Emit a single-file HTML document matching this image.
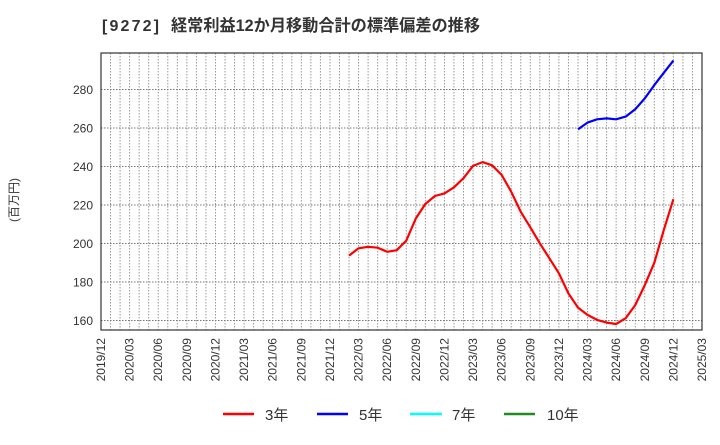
<!DOCTYPE html>
<html><head><meta charset="utf-8"><style>
body{margin:0;background:#fff;}
svg text{font-family:"Liberation Sans","Noto Sans CJK JP",sans-serif;fill:#333;}
</style></head><body>
<svg id="c" width="720" height="440" xmlns="http://www.w3.org/2000/svg">
<g>
<text x="102" y="31" font-size="16" font-weight="bold" textLength="57">[9272]</text>
<text x="171" y="31" font-size="16.5" font-weight="bold" textLength="309" lengthAdjust="spacingAndGlyphs">経常利益12か月移動合計の標準偏差の推移</text>
</g>
<text transform="translate(18,200) rotate(-90)" font-size="12" text-anchor="middle">(百万円)</text>
<g id="grid"></g><g id="axes"></g><g id="series"></g>
<g>
<line x1="223" y1="414" x2="254" y2="414" stroke="#f00" stroke-width="2.5"/>
<text x="265" y="420" font-size="15">3年</text>
<line x1="317" y1="414" x2="348" y2="414" stroke="#00f" stroke-width="2.5"/>
<text x="359" y="420" font-size="15">5年</text>
<line x1="410" y1="414" x2="442" y2="414" stroke="#0ff" stroke-width="2.5"/>
<text x="452" y="420" font-size="15">7年</text>
<line x1="504" y1="414" x2="535" y2="414" stroke="#228b22" stroke-width="2.5"/>
<text x="547" y="420" font-size="15">10年</text>
</g>
</svg>
<script>
const yTicks=[160,180,200,220,240,260,280];
const xTickLabels=["2019/12","2020/03","2020/06","2020/09","2020/12","2021/03","2021/06","2021/09","2021/12","2022/03","2022/06","2022/09","2022/12","2023/03","2023/06","2023/09","2023/12","2024/03","2024/06","2024/09","2024/12","2025/03"];
const red3Start="2022/02";
const red3=[193.7,197.5,198.3,197.8,195.7,196.5,201.5,213,220.5,224.7,226,229.2,233.9,240.3,242.3,240.6,235.6,226.9,216.5,208.4,200.1,192.3,184.5,174.1,166.7,162.9,160.3,158.9,158.2,161.2,168.0,178.4,190,207,223];
const blue5Start="2024/02";
const blue5=[259.3,262.8,264.5,265,264.5,265.9,269.7,275.4,282.3,288.7,295];
const L=101,R=702,T=53,B=330;
const NS="http://www.w3.org/2000/svg";
function mi(s){const[a,b]=s.split("/").map(Number);return (a-2019)*12+b-12;}
const xS=m=>L+m*(R-L)/63;
const yS=v=>89.5+(280-v)*38.5/20;
function mk(tag,at,p){const e=document.createElementNS(NS,tag);for(const k in at)e.setAttribute(k,at[k]);p.appendChild(e);return e;}
const grid=document.getElementById("grid"),axes=document.getElementById("axes"),ser=document.getElementById("series");
for(let m=1;m<63;m++){
const l=mk("line",{x1:xS(m),x2:xS(m),y1:T,y2:B,stroke:"#999","stroke-width":1,"stroke-dasharray":"1.5,1.5"},grid);


}
yTicks.forEach(v=>{
const l=mk("line",{x1:L,x2:R,y1:yS(v),y2:yS(v),stroke:"#777","stroke-width":1,"stroke-dasharray":"1.5,1.5"},grid);


const t=mk("text",{x:L-8,y:yS(v)+4.5,"font-size":12,"text-anchor":"end"},axes);t.textContent=v;


});
xTickLabels.forEach(s=>{
const x=xS(mi(s));
const t=mk("text",{transform:`translate(${x+4},${B+8}) rotate(-90)`,"font-size":12,"text-anchor":"end"},axes);t.textContent=s;


});
const fr=mk("rect",{x:L,y:T,width:R-L,height:B-T,fill:"none",stroke:"#333","stroke-width":1.2},axes);


function line(vals,start,color,name){
const s=mi(start);
const pts=vals.map((v,i)=>xS(s+i).toFixed(1)+","+yS(v).toFixed(1)).join(" ");
const p=mk("polyline",{points:pts,fill:"none",stroke:color,"stroke-width":2.2,"stroke-linejoin":"round"},ser);


}
line(red3,red3Start,"#f00","series-3y");
line(blue5,blue5Start,"#00f","series-5y");
</script>
</body></html>
